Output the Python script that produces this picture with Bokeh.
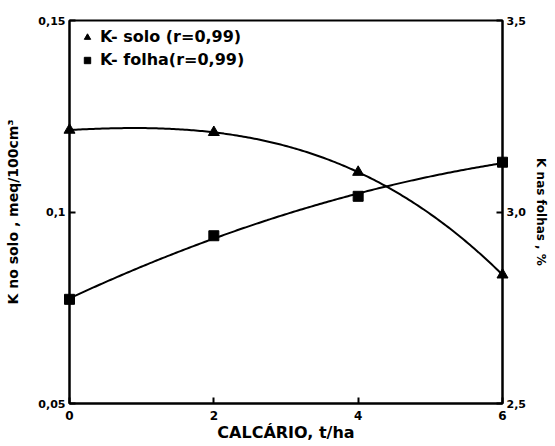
import numpy as np
from bokeh.plotting import figure
from bokeh.models import Range1d, LinearAxis, FixedTicker, Legend, LegendItem
from bokeh.embed import file_html
from bokeh.resources import INLINE

# ---- data ----
doses = [0, 2, 4, 6]                      # CALCÁRIO, t/ha
k_solo = [0.1214, 0.1208, 0.1104, 0.0836]  # K no solo, meq/100cm3 (left axis)
k_folha = [2.772, 2.938, 3.041, 3.130]     # K nas folhas, % (right axis)

x_ticks = [0, 2, 4, 6]
left_ticks = [0.05, 0.1, 0.15]
left_tick_labels = ["0,05", "0,1", "0,15"]
right_ticks = [2.5, 3.0, 3.5]
right_tick_labels = ["2,5", "3,0", "3,5"]

legend_solo = "K- solo (r=0,99)"
legend_folha = "K- folha(r=0,99)"

FONT = "DejaVu Sans"

p = figure(width=550, height=444,
           x_range=Range1d(0, 6), y_range=Range1d(0.05, 0.15),
           output_backend="svg", toolbar_location=None,
           min_border_left=69, min_border_right=48,
           min_border_top=20, min_border_bottom=36)
p.extra_y_ranges = {"folha": Range1d(2.5, 3.5)}
p.grid.visible = False
p.outline_line_color = "black"
p.outline_line_width = 2
p.background_fill_color = "white"
p.border_fill_color = "white"

# fitted regression curves of the measured points
xs = np.linspace(0, 6, 200)
c_solo = np.polyfit(doses, k_solo, 3)
c_folha = np.polyfit(doses, k_folha, 2)
p.line(xs, np.polyval(c_solo, xs), line_color="black", line_width=2)
p.line(xs, np.polyval(c_folha, xs), line_color="black", line_width=2,
       y_range_name="folha")

tri = p.scatter(doses, k_solo, marker="triangle", size=11, color="black",
                level="overlay")
sq = p.scatter(doses, k_folha, marker="square", size=10, color="black",
               y_range_name="folha", level="overlay")

def style_axis(ax):
    ax.axis_line_color = "black"
    ax.axis_line_width = 2
    ax.major_tick_in = 6
    ax.major_tick_out = 0
    ax.major_tick_line_width = 2
    ax.minor_tick_line_color = None
    ax.major_label_text_font = FONT
    ax.major_label_text_font_style = "bold"
    ax.major_label_text_font_size = "11px"
    ax.major_label_text_color = "black"
    ax.axis_label_text_font = FONT
    ax.axis_label_text_font_style = "bold"
    ax.axis_label_text_font_size = "14px"
    ax.axis_label_text_color = "black"

xa = p.xaxis[0]
xa.ticker = FixedTicker(ticks=x_ticks)
xa.axis_label = "CALCÁRIO, t/ha"
style_axis(xa)
xa.major_label_text_font_size = "12px"
xa.axis_label_text_font_size = "16px"
xa.major_label_standoff = 7
xa.axis_label_standoff = 0

ya = p.yaxis[0]
ya.ticker = FixedTicker(ticks=left_ticks)
ya.major_label_overrides = dict(zip(left_ticks, left_tick_labels))
ya.axis_label = "K no solo , meq/100cm³"
style_axis(ya)
ya.major_label_standoff = 4
ya.axis_label_standoff = 14

ra = LinearAxis(y_range_name="folha", ticker=FixedTicker(ticks=right_ticks))
ra.major_label_overrides = dict(zip(right_ticks, right_tick_labels))
ra.axis_label = "K nas folhas , %"
style_axis(ra)
ra.axis_label_text_font_size = "12px"
ra.major_label_standoff = 4
ra.axis_label_standoff = 5
p.add_layout(ra, "right")

legend = Legend(items=[LegendItem(label=legend_solo, renderers=[tri]),
                       LegendItem(label=legend_folha, renderers=[sq])],
                location="top_left", margin=0, padding=7,
                glyph_width=22, glyph_height=16, spacing=4, label_standoff=2,
                label_text_font=FONT, label_text_font_style="bold",
                label_text_font_size="16px", label_text_color="black",
                border_line_alpha=0, background_fill_alpha=0)
p.add_layout(legend)

open("out.html", "w").write(file_html(p, INLINE))
